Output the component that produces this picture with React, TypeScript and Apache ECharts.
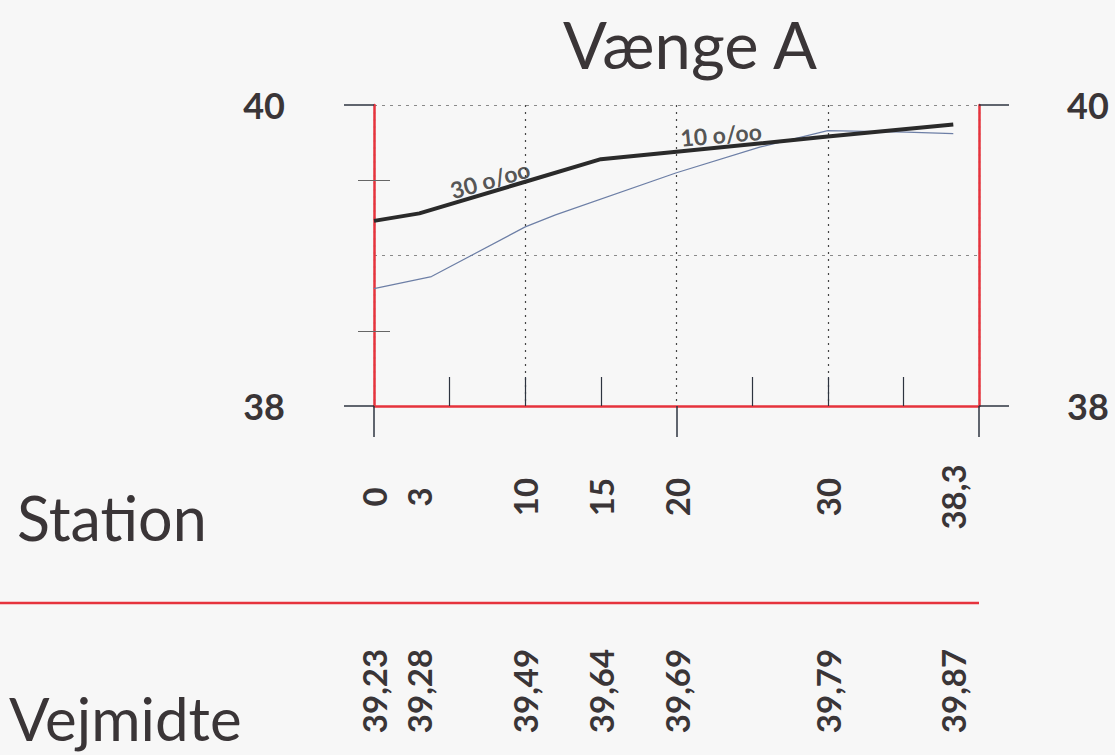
import React, { useEffect, useRef } from 'react';
import * as echarts from 'echarts';

// ---- data ----
const stations = [0, 3, 10, 15, 20, 30, 38.3];
const vejmidte = [39.23, 39.28, 39.49, 39.64, 39.69, 39.79, 39.87];
const terrainStations = [0, 3.8, 10, 12, 20, 25.5, 30, 35.2, 38.3];
const terrainLevels = [38.78, 38.86, 39.19, 39.27, 39.55, 39.72, 39.83, 39.82, 39.81];
const slopeLabels = ['30 o/oo', '10 o/oo'];
const slopeAt = [
  [7.67, 39.505],
  [22.94, 39.805],
];
const slopeAngles = [16, 5];
const xInnerTicks = [5, 10, 15, 25, 30, 35];
const yInnerTicks = [38.5, 39.5];
const title = 'Vænge A';
const rowTitles = ['Station', 'Vejmidte'];

const RED = '#e6333d';
const INK = '#3a3537';
const TICK = '#2e3440';
const FONT = 'Lato, "Noto Sans", sans-serif';
const NUM_WEIGHT = 'bold';

const fmt = (v: number) => String(v).replace('.', ',');
const fmtLevel = (v: number) => {
  let idx = 0;
  let best = Infinity;
  stations.forEach((s, i) => {
    const d = Math.abs(s - v);
    if (d < best) {
      best = d;
      idx = i;
    }
  });
  return vejmidte[idx].toFixed(2).replace('.', ',');
};

export default function App() {
  const ref = useRef<HTMLDivElement>(null);
  useEffect(() => {
    if (!ref.current) return;
    const chart = echarts.init(ref.current, undefined, { renderer: 'svg' });
    const hiddenX = {
      type: 'value',
      min: 0,
      max: 40,
      position: 'bottom',
      axisLine: { show: false },
      axisTick: { show: false },
      axisLabel: { show: false },
      splitLine: { show: false },
    };
    const hiddenY = {
      type: 'value',
      min: 38,
      max: 40,
      axisLine: { show: false },
      axisTick: { show: false },
      axisLabel: { show: false },
      splitLine: { show: false },
    };
    const mainY = (pos: string, margin: number) => ({
      type: 'value',
      min: 38,
      max: 40,
      interval: 2,
      position: pos,
      axisLine: { show: true, onZero: false, lineStyle: { color: RED, width: 2.5 } },
      axisTick: { show: true, inside: false, length: 30, lineStyle: { color: TICK, width: 1.5 } },
      axisLabel: { show: true, margin, fontSize: 36, color: INK, fontFamily: FONT, fontWeight: NUM_WEIGHT },
      splitLine: { show: false },
    });
    const minorY = (pos: string) => ({
      ...hiddenY,
      position: pos,
      axisTick: {
        show: true,
        inside: true,
        length: 16,
        customValues: yInnerTicks,
        lineStyle: { color: '#666', width: 1 },
      },
    });
    const option: any = {
      animation: false,
      backgroundColor: '#f7f7f7',
      textStyle: { fontFamily: FONT },
      grid: { left: 374, top: 105, width: 605, height: 301, containLabel: false, outerBoundsMode: 'none' },
      xAxis: [
        {
          type: 'value',
          min: 0,
          max: 40,
          interval: 20,
          position: 'bottom',
          axisLine: { show: true, onZero: false, lineStyle: { color: RED, width: 2.5 } },
          axisTick: { show: true, inside: false, length: 31, lineStyle: { color: TICK, width: 1.5 } },
          axisLabel: {
            show: true,
            customValues: stations,
            formatter: fmt,
            rotate: 90,
            align: 'center',
            verticalAlign: 'middle',
            margin: 91,
            fontSize: 33,
            color: INK,
            fontFamily: FONT,
            fontWeight: NUM_WEIGHT,
          },
          splitLine: { show: false },
        },
        {
          ...hiddenX,
          axisTick: {
            show: true,
            inside: true,
            length: 29,
            customValues: xInnerTicks,
            lineStyle: { color: TICK, width: 1.2 },
          },
        },
        {
          ...hiddenX,
          interval: 10,
          splitLine: { show: true, lineStyle: { color: '#444', width: 1.2, type: [2, 5] } },
        },
        {
          ...hiddenX,
          axisLabel: {
            show: true,
            customValues: stations,
            formatter: fmtLevel,
            rotate: 90,
            align: 'center',
            verticalAlign: 'middle',
            margin: 285,
            fontSize: 33,
            color: INK,
            fontFamily: FONT,
            fontWeight: NUM_WEIGHT,
          },
        },
      ],
      yAxis: [
        mainY('left', 89),
        minorY('left'),
        {
          ...hiddenY,
          position: 'left',
          interval: 1,
          splitLine: { show: true, lineStyle: { color: '#8a8a8a', width: 1, type: [3, 5] } },
        },
        mainY('right', 88),
        minorY('right'),
      ],
      series: [
        {
          type: 'line',
          name: 'Terræn',
          xAxisIndex: 0,
          yAxisIndex: 0,
          data: terrainStations.map((x, i) => [x, terrainLevels[i]]),
          symbol: 'none',
          lineStyle: { color: '#6d7fa6', width: 1.2 },
          z: 3,
        },
        {
          type: 'line',
          name: 'Vejmidte',
          xAxisIndex: 0,
          yAxisIndex: 0,
          data: stations.map((x, i) => [x, vejmidte[i]]),
          symbol: 'none',
          lineStyle: { color: '#2a2a2a', width: 4 },
          z: 4,
        },
        {
          type: 'scatter',
          xAxisIndex: 0,
          yAxisIndex: 0,
          silent: true,
          symbolSize: 1,
          itemStyle: { color: 'transparent' },
          data: slopeLabels.map((t, i) => ({
            name: t,
            value: slopeAt[i],
            label: { rotate: slopeAngles[i] },
          })),
          label: {
            show: true,
            position: 'inside',
            formatter: '{b}',
            fontSize: 23,
            fontWeight: 'bold',
            color: '#2a2a2a',
            fontFamily: FONT,
          },
          z: 5,
        },
      ],
      graphic: [
        {
          type: 'text',
          x: 690,
          y: 44,
          style: { text: title, fontSize: 65, fill: INK, fontFamily: FONT, align: 'center', verticalAlign: 'middle' },
        },
        {
          type: 'text',
          x: 17,
          y: 517,
          style: { text: rowTitles[0], fontSize: 61, fill: INK, fontFamily: FONT, align: 'left', verticalAlign: 'middle' },
        },
        {
          type: 'text',
          x: 9,
          y: 718,
          style: { text: rowTitles[1], fontSize: 60, fill: INK, fontFamily: FONT, align: 'left', verticalAlign: 'middle' },
        },
        {
          type: 'line',
          shape: { x1: 0, y1: 603, x2: 979, y2: 603 },
          style: { stroke: RED, lineWidth: 2.5 },
        },
      ],
    };
    chart.setOption(option);
    return () => chart.dispose();
  }, []);
  return (
    <div
      ref={ref}
      style={{ position: 'absolute', left: 0, top: 0, width: 1115, height: 755 }}
    />
  );
}
